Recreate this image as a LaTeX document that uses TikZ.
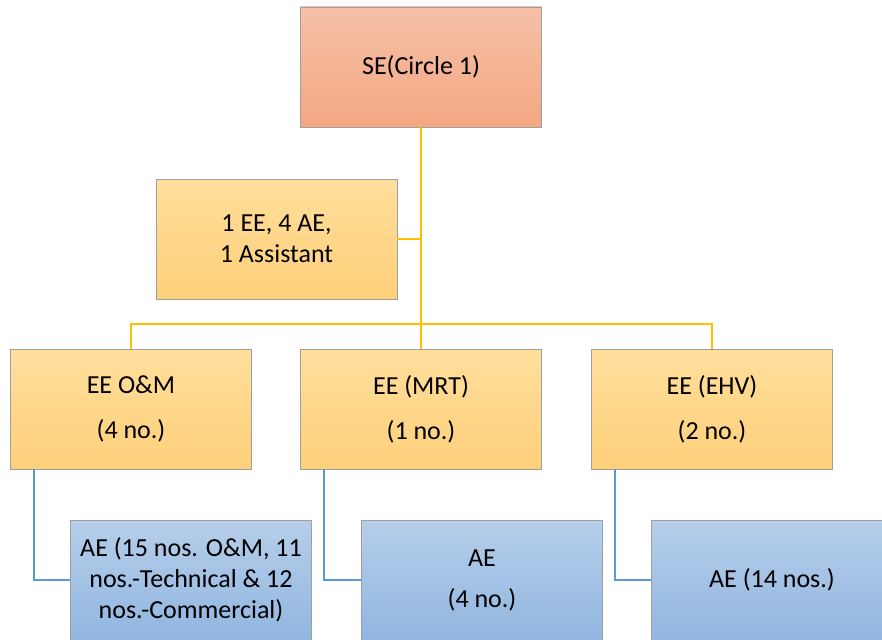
\documentclass[tikz,border=0pt]{standalone}
\usepackage{fontspec}
\setmainfont{Carlito}
\definecolor{salmontop}{RGB}{246,192,168}
\definecolor{salmonbot}{RGB}{244,167,129}
\definecolor{goldtop}{RGB}{255,222,156}
\definecolor{goldbot}{RGB}{254,208,122}
\definecolor{bluetop}{RGB}{182,206,234}
\definecolor{bluebot}{RGB}{145,182,224}
\definecolor{trunk}{RGB}{255,192,0}
\definecolor{branch}{RGB}{91,155,213}

\begin{document}
\begin{tikzpicture}[x=1pt, y=-1pt,
            box/.style={draw=gray!75, line width=0.8pt, rectangle, minimum width=241pt, minimum height=120pt, align=center, inner sep=2pt, font=\fontsize{26}{31}\selectfont},
            topbox/.style={box, top color=salmontop, bottom color=salmonbot},
            eebox/.style={box, top color=goldtop, bottom color=goldbot},
            aebox/.style={box, top color=bluetop, bottom color=bluebot},
            gold/.style={draw=trunk, line width=2.6pt},
            blue/.style={draw=branch, line width=2pt}]

            \useasboundingbox (0,0) rectangle (882,639);
            \clip (0,0) rectangle (882,639);

            \node[topbox] (se) at (421,67) {SE(Circle 1)};
            \node[eebox] (staff) at (276.5,239) {1 EE, 4 AE,\\1 Assistant};

            \node[eebox] (om) at (131,409) {EE O\&M\\[14pt](4 no.)};
            \node[eebox] (mrt) at (421,409) {EE (MRT)\\[14pt](1 no.)};
            \node[eebox] (ehv) at (712,409) {EE (EHV)\\[14pt](2 no.)};

            \node[aebox] (ae1) at (191,580) {AE (15 nos. O\&M, 11\\nos.-Technical \& 12\\nos.-Commercial)};
            \node[aebox] (ae2) at (482,580) {AE\\[10pt](4 no.)};
            \node[aebox] (ae3) at (772,580) {AE (14 nos.)};

            \coordinate (split) at (421,324);

            \draw[gold] (se) -- (mrt);
            \draw[gold] (se.south) |- (staff.east);
            \draw[gold] (split) -| (om.north);
            \draw[gold] (split) -| (ehv.north);

            \draw[blue] ([xshift=24pt]om.south west) |- (ae1.west);
            \draw[blue] ([xshift=24pt]mrt.south west) |- (ae2.west);
            \draw[blue] ([xshift=24pt]ehv.south west) |- (ae3.west);
        \end{tikzpicture}
\end{document}
